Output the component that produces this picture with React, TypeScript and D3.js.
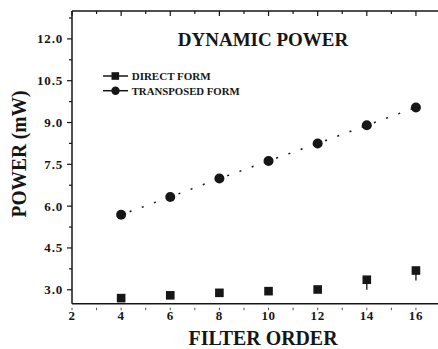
import { useEffect, useRef } from 'react'
import * as d3 from 'd3'

const filterOrders = [4, 6, 8, 10, 12, 14, 16]
const directForm = [2.7, 2.8, 2.89, 2.95, 3.01, 3.36, 3.69]
const directLower = [null, null, null, null, null, 3.0, 3.33]
const transposedForm = [5.69, 6.33, 6.99, 7.62, 8.25, 8.9, 9.54]
const xTicks = [2, 4, 6, 8, 10, 12, 14, 16]
const yTicks = [3.0, 4.5, 6.0, 7.5, 9.0, 10.5, 12.0]
const legendLabels = ['DIRECT FORM', 'TRANSPOSED FORM']

const W = 438
const H = 349
const FONT = 'Liberation Serif'
const INK = '#161616'

export default function App() {
  const svgRef = useRef<SVGSVGElement>(null)

  useEffect(() => {
    if (!svgRef.current) return
    const svg = d3.select(svgRef.current)
    svg.selectAll('*').remove()

    const left = 72
    const top = 11
    const bottom = 303.7
    const x = d3.scaleLinear().domain([2, 17]).range([left, 440.5])
    const y = d3.scaleLinear().domain([2.5, 13]).range([bottom, top])

    const g = svg.append('g')

    // frame lines (left, top, bottom) - right side is cut off
    g.append('line').attr('x1', left).attr('x2', left).attr('y1', top).attr('y2', bottom)
      .attr('stroke', INK).attr('stroke-width', 1.5)
    g.append('line').attr('x1', left).attr('x2', W).attr('y1', top).attr('y2', top)
      .attr('stroke', INK).attr('stroke-width', 1.5)
    g.append('line').attr('x1', left).attr('x2', W).attr('y1', bottom).attr('y2', bottom)
      .attr('stroke', INK).attr('stroke-width', 1.5)

    // top ticks (inward) and bottom ticks (small, outward)
    d3.range(2, 18).forEach((v) => {
      const major = v % 2 === 0
      g.append('line').attr('x1', x(v)).attr('x2', x(v))
        .attr('y1', top).attr('y2', top + (major ? 5 : 3))
        .attr('stroke', INK).attr('stroke-width', 1.2)
      g.append('line').attr('x1', x(v)).attr('x2', x(v))
        .attr('y1', bottom + 4).attr('y2', bottom + 6.5)
        .attr('stroke', '#555').attr('stroke-width', 1)
    })

    // left ticks (outward)
    d3.range(3, 13.01, 0.75).forEach((v) => {
      const major = Math.abs((v - 3) / 1.5 - Math.round((v - 3) / 1.5)) < 1e-6
      g.append('line').attr('x1', left).attr('x2', left - (major ? 5 : 3))
        .attr('y1', y(v)).attr('y2', y(v))
        .attr('stroke', INK).attr('stroke-width', 1.2)
    })

    g.selectAll('.ytl').data(yTicks).enter().append('text')
      .attr('x', 63).attr('y', (d) => y(d) + 4.5)
      .attr('text-anchor', 'end')
      .style('font-family', FONT).style('font-weight', 'bold')
      .style('font-size', '13px').style('letter-spacing', '0.8px').style('fill', INK)
      .text((d) => d.toFixed(1))

    g.selectAll('.xtl').data(xTicks).enter().append('text')
      .attr('x', (d) => x(d)).attr('y', 320)
      .attr('text-anchor', 'middle')
      .style('font-family', FONT).style('font-weight', 'bold')
      .style('font-size', '13px').style('letter-spacing', '0.6px').style('fill', INK)
      .text((d) => String(d))

    // axis titles
    svg.append('text')
      .attr('x', 263).attr('y', 344.5).attr('text-anchor', 'middle')
      .attr('textLength', 149).attr('lengthAdjust', 'spacingAndGlyphs')
      .style('font-family', FONT).style('font-weight', 'bold')
      .style('font-size', '22px').style('fill', INK)
      .text('FILTER ORDER')

    svg.append('text')
      .attr('transform', 'translate(25.5,154) rotate(-90)')
      .attr('text-anchor', 'middle')
      .attr('textLength', 127).attr('lengthAdjust', 'spacingAndGlyphs')
      .style('font-family', FONT).style('font-weight', 'bold')
      .style('font-size', '22px').style('fill', INK)
      .text('POWER (mW)')

    svg.append('text')
      .attr('x', 263).attr('y', 45.7).attr('text-anchor', 'middle')
      .style('font-family', FONT).style('font-weight', 'bold')
      .style('font-size', '19px').style('fill', INK)
      .text('DYNAMIC POWER')

    // transposed form dotted line
    const line = d3.line<number>()
      .x((_, i) => x(filterOrders[i]))
      .y((d) => y(d))
    g.append('path').datum(transposedForm)
      .attr('d', line)
      .attr('fill', 'none').attr('stroke', INK)
      .attr('stroke-width', 1.5)
      .attr('stroke-dasharray', '2,11').attr('stroke-dashoffset', 4)

    g.selectAll('.circ').data(transposedForm).enter().append('circle')
      .attr('cx', (_, i) => x(filterOrders[i])).attr('cy', (d) => y(d))
      .attr('r', 5).attr('fill', INK)

    // direct form markers with lower bars
    filterOrders.forEach((fo, i) => {
      const lo = directLower[i]
      if (lo === null) return
      g.append('line')
        .attr('x1', x(fo)).attr('x2', x(fo))
        .attr('y1', y(directForm[i])).attr('y2', y(lo))
        .attr('stroke', INK).attr('stroke-width', 1.3)
    })

    g.selectAll('.sq').data(directForm).enter().append('rect')
      .attr('x', (_, i) => x(filterOrders[i]) - 4.3)
      .attr('y', (d) => y(d) - 4.3)
      .attr('width', 8.6).attr('height', 8.6).attr('fill', INK)

    // legend
    legendLabels.forEach((label, i) => {
      const ly = 76 + i * 14.7
      g.append('line').attr('x1', 103).attr('x2', 128).attr('y1', ly).attr('y2', ly)
        .attr('stroke', INK).attr('stroke-width', 1.5)
      if (i === 0) {
        g.append('rect').attr('x', 111.5).attr('y', ly - 3.8)
          .attr('width', 7.6).attr('height', 7.6).attr('fill', INK)
      } else {
        g.append('circle').attr('cx', 115.5).attr('cy', ly).attr('r', 4.2).attr('fill', INK)
      }
      g.append('text')
        .attr('x', 131.7).attr('y', ly + 3.8)
        .attr('textLength', i === 0 ? 79 : 108).attr('lengthAdjust', 'spacingAndGlyphs')
        .style('font-family', FONT).style('font-weight', 'bold')
        .style('font-size', '11px').style('fill', INK)
        .text(label)
    })
  }, [])

  return (
    <div style={{ position: 'absolute', left: 0, top: 0, background: '#fff' }}>
      <svg ref={svgRef} width={W} height={H} style={{ display: 'block' }} />
    </div>
  )
}
